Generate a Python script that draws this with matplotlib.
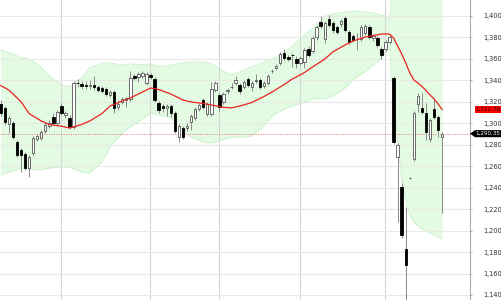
import numpy as np
import matplotlib
matplotlib.use("Agg")
import matplotlib.pyplot as plt
from matplotlib.patches import Polygon
from matplotlib.ticker import FuncFormatter
import matplotlib.transforms as mtransforms

# daily candles, oldest first
opens = [1318.0, 1314.2, 1299.3, 1300.3, 1282.6, 1275.1, 1271.4, 1258.3, 1272.3, 1285.4,
         1286.3, 1292.8, 1297.5, 1305.9, 1300.3, 1316.1, 1307.7, 1304.9, 1296.6, 1337.6,
         1336.6, 1335.7, 1335.2, 1335.7, 1333.8, 1332.9, 1332.0, 1326.4, 1329.2, 1315.2,
         1319.9, 1321.7, 1322.7, 1344.1, 1343.2, 1344.1, 1337.6, 1345.0, 1341.3, 1318.9,
         1316.1, 1314.2, 1316.1, 1309.6, 1287.2, 1295.6, 1295.6, 1301.2, 1304.9, 1313.3,
         1321.7, 1308.7, 1308.7, 1331.0, 1326.4, 1319.9, 1330.1, 1333.8, 1337.6, 1335.7,
         1333.8, 1341.3, 1333.8, 1339.4, 1340.4, 1334.8, 1337.6, 1348.7, 1351.5, 1356.2,
         1365.5, 1361.8, 1363.7, 1359.9, 1356.2, 1357.1, 1369.2, 1367.4, 1380.4, 1394.4,
         1378.6, 1397.2, 1393.5, 1389.8, 1392.5, 1398.1, 1385.1, 1381.4, 1378.6, 1378.6,
         1384.2, 1389.8, 1379.5, 1379.5, 1369.2, 1369.2, 1375.8, 1342.2, 1268.6, 1240.6,
         1182.9, 1249.0, 1266.7, 1318.0, 1314.2, 1309.6, 1285.4, 1313.3, 1305.9, 1287.2]
highs = [1321.7, 1316.1, 1306.8, 1302.2, 1284.4, 1277.0, 1273.3, 1270.5, 1288.2, 1290.0,
         1293.8, 1301.2, 1303.1, 1309.6, 1312.4, 1318.9, 1311.4, 1307.7, 1339.4, 1341.3,
         1339.4, 1339.4, 1340.4, 1344.1, 1335.7, 1334.8, 1333.8, 1331.0, 1331.0, 1321.7,
         1324.6, 1324.6, 1348.7, 1345.9, 1347.8, 1348.7, 1347.8, 1346.9, 1343.2, 1320.8,
         1318.0, 1318.0, 1318.0, 1311.4, 1299.3, 1297.5, 1300.3, 1308.7, 1315.2, 1318.9,
         1323.6, 1319.9, 1338.5, 1339.4, 1328.2, 1329.2, 1332.9, 1337.6, 1344.1, 1337.6,
         1340.4, 1343.2, 1339.4, 1345.9, 1342.2, 1339.4, 1345.9, 1350.6, 1355.3, 1366.5,
         1369.2, 1363.7, 1365.5, 1362.7, 1362.7, 1370.2, 1372.0, 1381.4, 1391.6, 1400.0,
         1395.3, 1400.9, 1395.3, 1391.6, 1397.2, 1400.0, 1386.9, 1383.2, 1384.2, 1391.6,
         1392.5, 1391.6, 1383.2, 1381.4, 1371.1, 1377.6, 1382.3, 1344.1, 1281.6, 1244.4,
         1222.0, 1249.5, 1311.4, 1328.2, 1328.2, 1318.9, 1304.9, 1321.7, 1307.7, 1291.9]
lows = [1306.8, 1298.4, 1290.9, 1285.4, 1268.6, 1254.6, 1256.5, 1250.0, 1270.5, 1283.5,
        1284.4, 1290.9, 1295.6, 1298.4, 1298.4, 1307.7, 1304.9, 1294.7, 1294.7, 1333.8,
        1332.0, 1332.0, 1332.0, 1331.0, 1329.2, 1328.2, 1325.5, 1324.6, 1309.6, 1312.4,
        1318.0, 1315.2, 1320.8, 1340.4, 1338.5, 1342.2, 1335.7, 1341.3, 1319.9, 1309.6,
        1310.5, 1306.8, 1305.9, 1290.9, 1282.6, 1285.4, 1292.8, 1293.8, 1303.1, 1311.4,
        1313.3, 1306.8, 1306.8, 1329.2, 1311.4, 1318.0, 1327.3, 1332.0, 1335.7, 1327.3,
        1332.0, 1333.8, 1330.1, 1337.6, 1332.0, 1332.9, 1335.7, 1346.9, 1349.7, 1354.3,
        1359.0, 1358.1, 1352.5, 1351.5, 1354.3, 1351.5, 1361.8, 1365.5, 1377.6, 1388.8,
        1374.8, 1389.8, 1384.2, 1383.2, 1389.8, 1385.1, 1373.9, 1375.8, 1368.3, 1376.7,
        1382.3, 1378.6, 1376.7, 1371.1, 1359.9, 1367.4, 1373.9, 1280.7, 1208.0, 1193.1,
        1126.0, 1248.5, 1264.9, 1310.5, 1308.7, 1284.4, 1282.6, 1304.0, 1287.2, 1216.4]
closes = [1309.6, 1301.2, 1304.9, 1287.2, 1270.5, 1270.5, 1258.3, 1268.6, 1286.3, 1288.2,
          1291.9, 1298.4, 1300.3, 1300.3, 1310.5, 1309.6, 1309.6, 1296.6, 1337.6, 1337.1,
          1334.8, 1335.2, 1335.7, 1333.8, 1331.0, 1330.1, 1327.3, 1329.2, 1314.2, 1318.0,
          1322.7, 1323.6, 1342.2, 1342.2, 1345.9, 1346.9, 1345.9, 1343.2, 1321.7, 1312.4,
          1314.2, 1316.1, 1309.6, 1292.8, 1297.5, 1287.2, 1297.5, 1306.8, 1313.3, 1317.1,
          1315.2, 1318.0, 1332.0, 1337.6, 1315.2, 1327.3, 1330.6, 1334.3, 1340.4, 1330.1,
          1338.5, 1335.7, 1337.6, 1339.9, 1333.8, 1337.6, 1344.1, 1349.2, 1353.4, 1364.6,
          1360.9, 1359.9, 1363.2, 1356.2, 1360.9, 1368.3, 1363.7, 1379.5, 1389.8, 1390.7,
          1393.5, 1391.6, 1386.9, 1385.1, 1395.3, 1386.9, 1375.8, 1377.6, 1378.1, 1389.8,
          1390.7, 1380.4, 1381.4, 1373.0, 1363.7, 1375.8, 1380.4, 1282.6, 1279.8, 1195.9,
          1168.0, 1249.0, 1309.6, 1325.5, 1310.5, 1291.9, 1303.1, 1305.9, 1293.8, 1290.35]

# moving average and bands, read at these candle numbers
band_idx = [0, 2, 5, 7, 10, 12, 15, 17, 20, 22, 25, 27, 30, 32, 35, 37, 39, 42, 45, 47,
            50, 52, 55, 57, 60, 62, 65, 67, 70, 72, 75, 77, 80, 82, 85, 87, 90, 92, 94, 96,
            97, 98, 99, 100, 101, 102, 103, 104, 105, 106, 107, 108, 109]
ma_vals = [1335.2, 1331.0, 1320.3, 1309.1, 1302.2, 1298.9, 1297.3, 1295.6, 1298.9, 1302.2,
           1309.1, 1316.1, 1320.8, 1323.6, 1329.2, 1332.9, 1331.5, 1327.3, 1321.7, 1319.9,
           1318.5, 1317.1, 1314.9, 1314.3, 1317.1, 1319.4, 1325.0, 1329.2, 1336.2, 1341.3,
           1347.3, 1352.5, 1359.9, 1366.5, 1373.0, 1376.7, 1380.4, 1381.8, 1383.2, 1383.2,
           1379.5, 1372.0, 1364.6, 1356.2, 1346.9, 1340.4, 1337.6, 1334.3, 1330.6, 1326.4,
           1322.7, 1318.0, 1312.76]
upper = [1368.3, 1366.0, 1361.5, 1359.9, 1352.5, 1344.1, 1335.7, 1334.3, 1342.2, 1352.0,
         1356.2, 1356.2, 1354.3, 1355.3, 1354.8, 1355.3, 1352.9, 1354.3, 1356.2, 1357.1,
         1357.1, 1355.7, 1348.7, 1345.0, 1349.7, 1352.9, 1357.1, 1360.4, 1365.5, 1372.5,
         1382.3, 1388.4, 1399.5, 1401.9, 1403.7, 1404.7, 1403.7, 1402.8, 1400.9, 1399.1,
         1425, 1435, 1450, 1460, 1465, 1462, 1455, 1450, 1447, 1443,
         1440, 1436, 1432]
lower = [1251.8, 1254.6, 1258.3, 1257.4, 1256.5, 1258.3, 1259.3, 1259.3, 1254.6, 1253.7,
         1264.0, 1277.9, 1291.0, 1296.6, 1304.0, 1309.6, 1307.7, 1305.4, 1293.8, 1287.2,
         1282.6, 1281.6, 1284.9, 1287.2, 1287.2, 1288.2, 1297.5, 1306.8, 1313.3, 1316.1,
         1319.9, 1322.7, 1323.1, 1325.5, 1332.9, 1340.4, 1348.7, 1354.3, 1360.9, 1370.2,
         1321.7, 1284.4, 1247.2, 1228.5, 1214.5, 1208.0, 1204.3, 1201.5, 1199.6, 1197.8,
         1195.9, 1194.1, 1192.6]

month_lines = [14.85, 36.85, 53.85, 73.85, 94.85]
y_ticks = list(range(1140, 1401, 20))
last_price = 1290.35
ma_last = 1312.76

o = np.array(opens)
h = np.array(highs)
l = np.array(lows)
c = np.array(closes)
x = np.arange(len(o))
up = c >= o

fig = plt.figure(figsize=(5.01, 3.0), dpi=100)
ax = fig.add_axes([0, 0, 470 / 501, 1])

# bands
ax.fill_between(band_idx, lower, upper, color="#e2fbe2", zorder=0.2, lw=0)
ax.plot(band_idx, upper, color="#c8f0c8", lw=0.6, zorder=0.3)
ax.plot(band_idx, lower, color="#c8f0c8", lw=0.6, zorder=0.3)

for m in month_lines:
    ax.axvline(m, color="#d6d6d6", lw=0.8, zorder=0.5)

ax.axhline(last_price, color="#f07070", lw=0.7, ls=(0, (1, 1.5)), zorder=1)

# candles
ax.vlines(x, l, h, color="#8a8a8a", lw=0.7, zorder=2)
body = np.maximum(np.abs(c - o), 0.4)
bottom = np.minimum(o, c)
ax.bar(x[up], body[up], bottom=bottom[up], width=0.6, color="white",
       edgecolor="#555555", lw=0.6, zorder=3)
ax.bar(x[~up], body[~up], bottom=bottom[~up], width=0.6, color="black",
       edgecolor="black", lw=0.6, zorder=3)

ax.plot(band_idx, ma_vals, color="#e8231f", lw=0.9, zorder=4)

ax.set_xlim(-0.17, 115.86)
ax.set_ylim(1135.34, 1414.91)
ax.set_xticks([])
ax.set_yticks(y_ticks)
ax.yaxis.tick_right()
ax.yaxis.set_major_formatter(FuncFormatter(lambda v, p: f"{v:,.0f}"))
ax.tick_params(axis="y", length=1.5, width=0.6, color="#999999", pad=8.0,
               labelsize=4.8, labelcolor="#333333")
ax.grid(axis="y", color="#e8e8e8", lw=0.8)
ax.set_axisbelow(True)
for s in ["left", "top", "bottom"]:
    ax.spines[s].set_visible(False)
ax.spines["right"].set_color("#aaaaaa")
ax.spines["right"].set_linewidth(0.8)

# price badges on the axis
tr = mtransforms.blended_transform_factory(fig.transFigure, ax.transData)
hh = 3.3
x0, x1, x2 = 470 / 501, 475 / 501, 1.0
red = Polygon([(x1, ma_last - hh), (x2, ma_last - hh), (x2, ma_last + hh), (x1, ma_last + hh)],
              closed=True, transform=tr, facecolor="#ff0000", edgecolor="none", clip_on=False)
fig.patches.append(red)
fig.text(475.5 / 501, ma_last, f"{ma_last:,.2f}", transform=tr, fontsize=4.1,
         color="#200000", va="center", ha="left")
blk = Polygon([(x0, last_price), (x1, last_price + hh), (x2, last_price + hh),
               (x2, last_price - hh), (x1, last_price - hh)],
              closed=True, transform=tr, facecolor="black", edgecolor="none", clip_on=False)
fig.patches.append(blk)
fig.text(475.5 / 501, last_price, f"{last_price:,.2f}", transform=tr, fontsize=4.1,
         color="white", va="center", ha="left")

fig.savefig("out.png", dpi=100)
